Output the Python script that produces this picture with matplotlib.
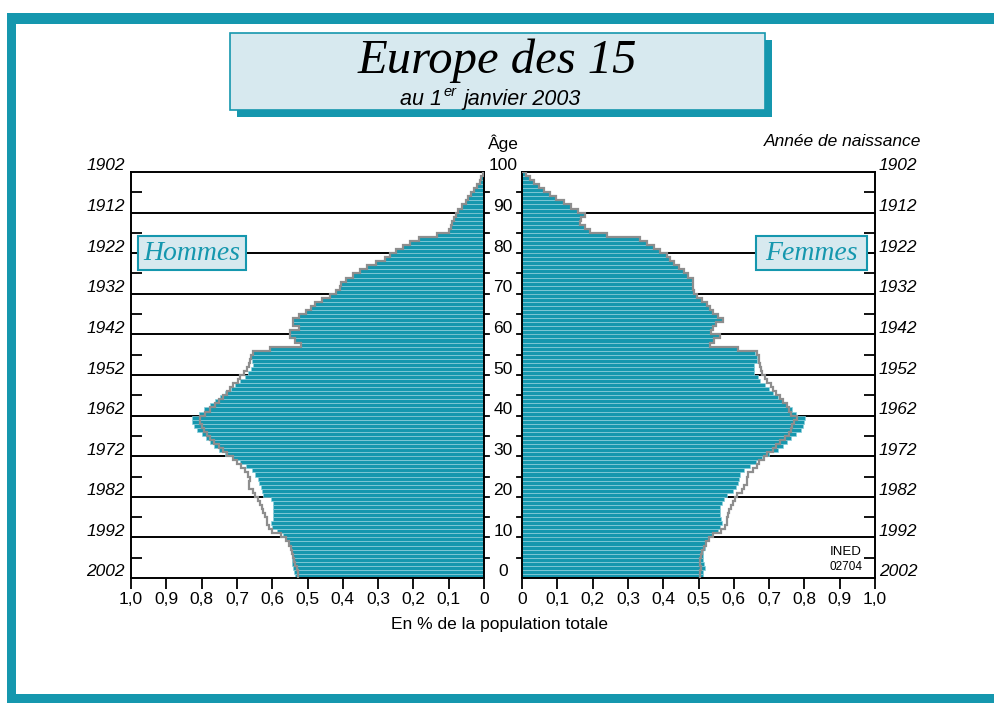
import numpy as np
import matplotlib.pyplot as plt
from matplotlib.patches import Rectangle

# Pyramide des âges, Europe des 15 au 1er janvier 2003 (en % de la population totale)
# une valeur par âge, de 0 à 99 ans
hommes = [0.535, 0.538, 0.540, 0.543, 0.545, 0.545, 0.547, 0.548, 0.553, 0.560,
          0.569, 0.585, 0.600, 0.602, 0.597, 0.597, 0.597, 0.597, 0.598, 0.602,
          0.625, 0.630, 0.633, 0.636, 0.640, 0.648, 0.658, 0.675, 0.692, 0.710,
          0.735, 0.750, 0.765, 0.775, 0.787, 0.800, 0.812, 0.822, 0.828, 0.826,
          0.808, 0.792, 0.776, 0.762, 0.748, 0.733, 0.718, 0.705, 0.690, 0.678,
          0.668, 0.660, 0.654, 0.656, 0.660, 0.655, 0.606, 0.517, 0.535, 0.550,
          0.550, 0.525, 0.540, 0.542, 0.524, 0.505, 0.490, 0.478, 0.458, 0.435,
          0.418, 0.408, 0.405, 0.392, 0.370, 0.350, 0.332, 0.305, 0.280, 0.265,
          0.250, 0.230, 0.210, 0.185, 0.134, 0.098, 0.094, 0.090, 0.086, 0.080,
          0.073, 0.062, 0.052, 0.044, 0.036, 0.028, 0.020, 0.012, 0.008, 0.004]

femmes = [0.512, 0.514, 0.517, 0.516, 0.514, 0.514, 0.514, 0.517, 0.522, 0.530,
          0.540, 0.556, 0.562, 0.566, 0.563, 0.560, 0.560, 0.562, 0.566, 0.572,
          0.580, 0.598, 0.606, 0.612, 0.615, 0.618, 0.630, 0.645, 0.662, 0.680,
          0.700, 0.725, 0.740, 0.750, 0.762, 0.775, 0.790, 0.795, 0.798, 0.802,
          0.775, 0.765, 0.752, 0.738, 0.725, 0.712, 0.700, 0.688, 0.675, 0.668,
          0.658, 0.656, 0.656, 0.665, 0.665, 0.660, 0.613, 0.532, 0.545, 0.560,
          0.535, 0.540, 0.550, 0.568, 0.555, 0.540, 0.533, 0.524, 0.510, 0.495,
          0.487, 0.485, 0.485, 0.484, 0.470, 0.458, 0.445, 0.432, 0.420, 0.410,
          0.392, 0.375, 0.353, 0.335, 0.240, 0.193, 0.178, 0.164, 0.168, 0.178,
          0.160, 0.140, 0.120, 0.095, 0.078, 0.062, 0.048, 0.034, 0.022, 0.012]

# contour gris (0 à 56 ans), au-delà il suit les barres
hommes_contour_jeunes = [
    0.526, 0.528, 0.531, 0.534, 0.537, 0.540, 0.545, 0.548, 0.553, 0.560,
    0.575, 0.600, 0.610, 0.616, 0.616, 0.620, 0.625, 0.628, 0.635, 0.640,
    0.650, 0.655, 0.665, 0.667, 0.663, 0.668, 0.678, 0.688, 0.700, 0.712,
    0.728, 0.738, 0.750, 0.765, 0.775, 0.785, 0.793, 0.800, 0.805, 0.805,
    0.790, 0.775, 0.763, 0.750, 0.738, 0.728, 0.720, 0.710, 0.698, 0.690,
    0.680, 0.670, 0.665, 0.663, 0.660, 0.655, 0.606]
femmes_contour_jeunes = [
    0.504, 0.504, 0.506, 0.505, 0.504, 0.506, 0.509, 0.515, 0.522, 0.530,
    0.542, 0.565, 0.575, 0.580, 0.582, 0.584, 0.587, 0.592, 0.599, 0.604,
    0.608, 0.622, 0.630, 0.636, 0.638, 0.641, 0.655, 0.665, 0.672, 0.685,
    0.695, 0.710, 0.720, 0.730, 0.745, 0.755, 0.762, 0.766, 0.770, 0.778,
    0.762, 0.755, 0.750, 0.738, 0.730, 0.720, 0.712, 0.705, 0.695, 0.688,
    0.680, 0.676, 0.675, 0.672, 0.670, 0.665, 0.613]
hommes_contour = hommes_contour_jeunes + hommes[57:]
femmes_contour = femmes_contour_jeunes + femmes[57:]

ages = np.arange(len(hommes))
ages_labels = list(range(0, 101, 10))
annees_labels = [str(2002 - a) for a in ages_labels]
xticks = [0, 0.1, 0.2, 0.3, 0.4, 0.5, 0.6, 0.7, 0.8, 0.9, 1.0]
xtick_labels = ['0', '0,1', '0,2', '0,3', '0,4', '0,5', '0,6', '0,7', '0,8', '0,9', '1,0']

TEAL = '#1597ae'
BAR_EDGE = '#8ccfdb'
LIGHT = '#d7e9ef'
W, H = 994, 704

plt.rcParams['font.family'] = ['Liberation Sans', 'DejaVu Sans']


def fx(x):
    return x / W


def fy(y):
    return 1 - y / H


def contour(vals):
    xs, ys = [], []
    for a, v in enumerate(vals):
        xs += [v, v]
        ys += [a, a + 1]
    xs.append(0)
    ys.append(len(vals))
    return xs, ys


fig = plt.figure(figsize=(W / 100, H / 100), dpi=100)

# cadre
for (x0, y0, x1, y1) in [(7, 13, 994, 24), (7, 13, 16, 703), (7, 694, 994, 703)]:
    fig.patches.append(Rectangle((fx(x0), fy(y1)), (x1 - x0) / W, (y1 - y0) / H,
                                 transform=fig.transFigure, facecolor=TEAL,
                                 edgecolor='none', zorder=0))

ax_h = fig.add_axes([fx(131), fy(578), 353 / W, 406 / H])
ax_f = fig.add_axes([fx(522), fy(578), 353 / W, 406 / H])

for ax, vals, cont in [(ax_h, hommes, hommes_contour), (ax_f, femmes, femmes_contour)]:
    for a in range(10, 100, 10):
        ax.axhline(a, color='black', lw=1.4, zorder=1)
    ax.barh(ages + 0.5, vals, height=1, color=TEAL, edgecolor=BAR_EDGE,
            linewidth=0.5, zorder=2)
    xs, ys = contour(cont)
    ax.plot(xs, ys, color='#8e8e8e', lw=1.6, zorder=3, solid_joinstyle='miter')
    ax.set_ylim(0, 100)
    ax.set_xticks(xticks)
    ax.set_xticklabels(xtick_labels, fontsize=12.5)
    ax.set_yticks(range(5, 100, 10))
    ax.set_yticklabels([])
    for s in ax.spines.values():
        s.set_linewidth(1.4)
    ax.tick_params(axis='x', direction='out', length=8, width=1.3, pad=2)
    ax.tick_params(axis='y', direction='in', length=8, width=1.3)

ax_h.set_xlim(1.0, 0)
ax_f.set_xlim(0, 1.0)
ax_h.tick_params(axis='y', left=True, right=False)
ax_f.tick_params(axis='y', left=False, right=True)

# petites graduations côté central, tous les 5 ans
for ax, xa in [(ax_h, 1.0), (ax_f, 0.0)]:
    sign = 1 if xa == 1.0 else -1
    for a in range(5, 100, 5):
        ax.plot([xa, xa + sign * 5 / 353], [a, a], color='black', lw=1.3,
                transform=ax.get_yaxis_transform(), clip_on=False)

# âges au centre et années de naissance
for a, an in zip(ages_labels, annees_labels):
    y = 578 - a * 4.06 - 6
    fig.text(fx(503), fy(y), str(a), ha='center', va='center', fontsize=12.5)
    fig.text(fx(125), fy(y), an, ha='right', va='center', fontsize=12.5, style='italic')
    fig.text(fx(879), fy(y), an, ha='left', va='center', fontsize=12.5, style='italic')

fig.text(fx(503), fy(143), 'Âge', ha='center', va='center', fontsize=12.5)
fig.text(fx(921), fy(142), 'Année de naissance', ha='right', va='center',
         fontsize=12.5, style='italic')
fig.text(fx(500), fy(624), 'En % de la population totale', ha='center', va='center',
         fontsize=12.5)

# titre
fig.patches.append(Rectangle((fx(237), fy(117)), 535 / W, 77 / H, transform=fig.transFigure,
                             facecolor=TEAL, edgecolor='none', zorder=1))
fig.patches.append(Rectangle((fx(230), fy(110)), 535 / W, 77 / H, transform=fig.transFigure,
                             facecolor=LIGHT, edgecolor=TEAL, lw=1.2, zorder=2))
fig.text(fx(497), fy(73), 'Europe des 15', ha='center', va='baseline',
         fontsize=35, style='italic', family='Liberation Serif')
fig.text(fx(442), fy(105), 'au 1', ha='right', va='baseline', fontsize=15.5, style='italic')
fig.text(fx(443), fy(96), 'er', ha='left', va='baseline', fontsize=10.5, style='italic')
fig.text(fx(463), fy(105), 'janvier 2003', ha='left', va='baseline', fontsize=15.5, style='italic')

# étiquettes Hommes / Femmes
for (x0, x1, lab) in [(138, 246, 'Hommes'), (756, 867, 'Femmes')]:
    fig.patches.append(Rectangle((fx(x0), fy(270)), (x1 - x0) / W, 34 / H,
                                 transform=fig.transFigure, facecolor=LIGHT,
                                 edgecolor=TEAL, lw=1.5, zorder=5))
    fig.text(fx((x0 + x1) / 2), fy(254), lab, ha='center', va='center', fontsize=20,
             style='italic', family='Liberation Serif', color=TEAL, zorder=6)

fig.text(fx(862), fy(552), 'INED', ha='right', va='center', fontsize=9.5)
fig.text(fx(862), fy(567), '02704', ha='right', va='center', fontsize=8.5)

fig.savefig('out.png', dpi=100)
